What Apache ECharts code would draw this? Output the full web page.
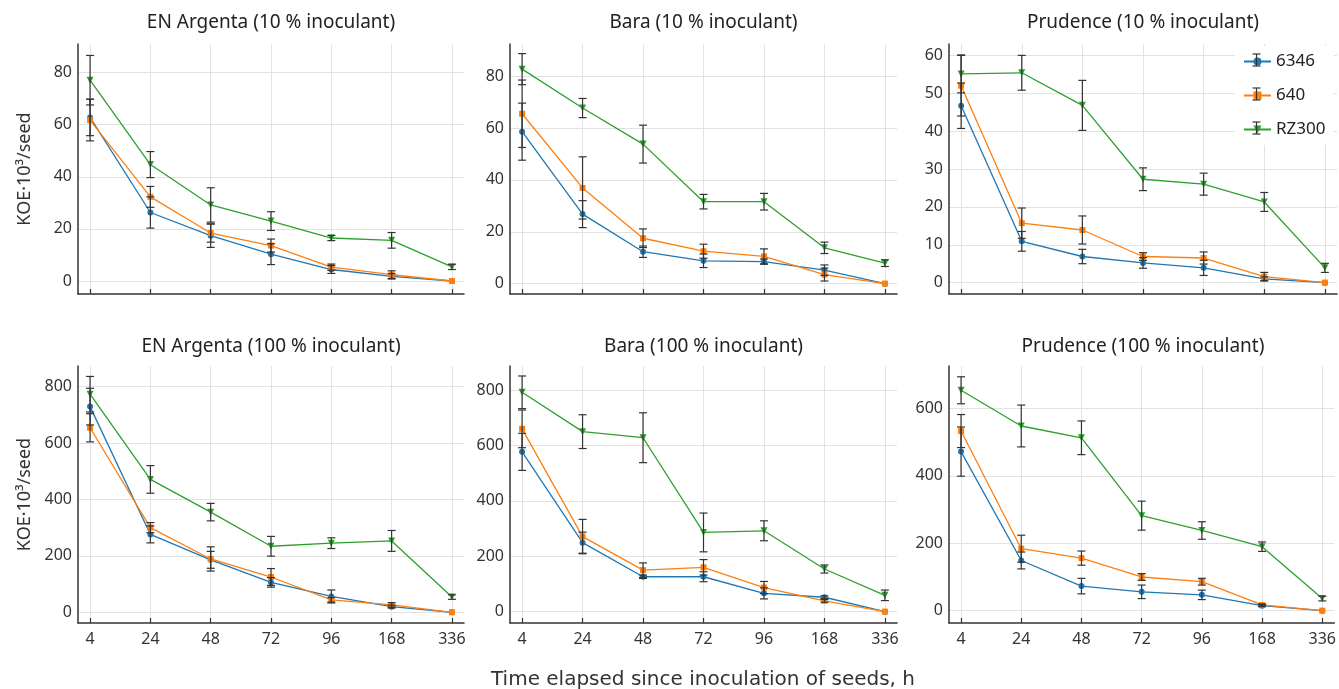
<!DOCTYPE html>
<html>
<head>
<meta charset="utf-8">
<script src="https://cdn.jsdelivr.net/npm/echarts@6/dist/echarts.min.js"></script>
<style>
  html, body { margin: 0; padding: 0; background: #fff; }
  #chart { width: 1339px; height: 689px; }
</style>
</head>
<body>
<div id="chart"></div>
<script>
// time points (h) and strains
const hours = ['4', '24', '48', '72', '96', '168', '336']
const strains = ['6346', '640', 'RZ300']
const panelTitles = [
  'EN Argenta (10 % inoculant)', 'Bara (10 % inoculant)', 'Prudence (10 % inoculant)',
  'EN Argenta (100 % inoculant)', 'Bara (100 % inoculant)', 'Prudence (100 % inoculant)'
]

// means, rows = 6346, 640, RZ300
const argenta10 = [
  [62.8, 26.3, 17.4, 10.3, 4.4, 1.8, 0],
  [61.8, 32.3, 18.4, 13.6, 5.3, 2.4, 0],
  [77.1, 44.7, 29.2, 23.0, 16.5, 15.6, 5.4]
]
const argenta10Err = [
  [7, 6, 4.5, 4, 1.5, 1, 0],
  [8, 4, 3.5, 2.5, 1.2, 1.5, 0],
  [9.5, 5, 6.6, 3.6, 1, 3, 1]
]
const bara10 = [
  [58.6, 26.8, 12.3, 8.8, 8.5, 5.2, 0],
  [65.5, 36.9, 17.5, 12.5, 10.5, 3.5, 0],
  [82.7, 67.7, 53.8, 31.6, 31.6, 13.8, 7.9]
]
const bara10Err = [
  [11, 5.2, 2.2, 2.6, 1, 2, 0],
  [13, 12, 3.6, 2.7, 2.9, 2.5, 0],
  [6, 3.7, 7.3, 2.8, 3.2, 2.2, 1.3]
]
const prudence10 = [
  [46.7, 10.9, 6.9, 5.2, 3.9, 1.0, 0],
  [52.0, 15.7, 13.9, 6.9, 6.5, 1.6, 0],
  [55.1, 55.4, 46.8, 27.3, 26.0, 21.3, 3.9]
]
const prudence10Err = [
  [6, 2.6, 1.9, 1.4, 2, 0.5, 0],
  [8, 4, 3.7, 1, 1.6, 1.1, 0],
  [5, 4.6, 6.6, 3, 2.9, 2.5, 1.2]
]
const argenta100 = [
  [729, 276, 186, 106, 56, 20, 0],
  [654, 300, 189, 125, 44, 26, 0],
  [773, 471, 355, 234, 245, 253, 54]
]
const argenta100Err = [
  [65, 30, 30, 17, 23, 5, 0],
  [50, 18, 43, 30, 8, 8, 0],
  [63, 49, 31, 35, 19, 37, 8]
]
const bara100 = [
  [577, 249, 126, 126, 66, 52, 0],
  [660, 271, 150, 160, 87, 39, 0],
  [792, 650, 628, 286, 292, 154, 59]
]
const bara100Err = [
  [67, 38, 6, 18, 20, 5, 0],
  [68, 62, 26, 28, 22, 5, 0],
  [59, 61, 90, 70, 36, 14.5, 19]
]
const prudence100 = [
  [472, 149, 73, 56, 47, 15, 0],
  [533, 184, 156, 100, 86, 17, 0],
  [654, 548, 513, 282, 238, 190, 36]
]
const prudence100Err = [
  [73, 25, 23, 20, 14, 3, 0],
  [49, 40, 21, 10, 10, 3, 0],
  [40, 62, 50, 43, 26, 14, 7]
]

const yTicks10 = [0, 20, 40, 60, 80]
const yTicksPrud10 = [0, 10, 20, 30, 40, 50, 60]
const yTicks100Big = [0, 200, 400, 600, 800]
const yTicksPrud100 = [0, 200, 400, 600]

const means = [argenta10, bara10, prudence10, argenta100, bara100, prudence100]
const errs = [argenta10Err, bara10Err, prudence10Err, argenta100Err, bara100Err, prudence100Err]
const yTicks = [yTicks10, yTicks10, yTicksPrud10, yTicks100Big, yTicks100Big, yTicksPrud100]

// layout
const yRange = [[-5, 91], [-4, 92.4], [-3, 63], [-38, 873], [-41, 887], [-36.5, 726]]
const lefts = [78, 510, 949]
const widths = [386, 387, 388]
const tops = [44, 366]
const heights = [250, 257]

const colors = ['#1f77b4', '#ff7f0e', '#2ca02c']
const symbols = ['circle', 'rect', 'triangle']
const symbolSizes = [6, 6, 7]
const font = 'Noto Sans'
const ink = '#333'

const chart = echarts.init(document.getElementById('chart'))

const grids = [], xAxes = [], yAxes = [], series = [], graphics = []

const errStyle = { stroke: ink, lineWidth: 1.2 }
function errBar(cx, y1, y2, w, z) {
	return [
		{ type: 'line', z: z, shape: { x1: cx, y1: y1, x2: cx, y2: y2 }, style: errStyle },
		{ type: 'line', z: z, shape: { x1: cx - w, y1: y1, x2: cx + w, y2: y1 }, style: errStyle },
		{ type: 'line', z: z, shape: { x1: cx - w, y1: y2, x2: cx + w, y2: y2 }, style: errStyle }
	]
}

for (let p = 0; p < 6; p++) {
	const row = Math.floor(p / 3), col = p % 3
	grids.push({ left: lefts[col], top: tops[row], width: widths[col], height: heights[row] })

	xAxes.push({
		type: 'value', gridIndex: p, min: -0.2, max: 6.2,
		axisLine: { show: true, onZero: false, lineStyle: { color: ink, width: 1.5 } },
		axisTick: { show: true, inside: true, length: 5, customValues: [0, 1, 2, 3, 4, 5, 6], lineStyle: { color: ink, width: 1.2 } },
		axisLabel: {
			show: row === 1, customValues: [0, 1, 2, 3, 4, 5, 6],
			formatter: v => hours[v], fontFamily: font, fontSize: 16, color: ink, margin: 8
		},
		splitLine: { show: true, lineStyle: { color: '#e2e2e2', width: 1 } }
	})

	yAxes.push({
		type: 'value', gridIndex: p, min: yRange[p][0], max: yRange[p][1],
		name: col === 0 ? 'KOE·10³/seed' : '',
		nameLocation: 'middle', nameGap: 44, nameRotate: 90,
		nameTextStyle: { fontFamily: font, fontSize: 18, color: ink },
		axisLine: { show: true, onZero: false, lineStyle: { color: ink, width: 1.5 } },
		axisTick: { show: false, customValues: yTicks[p] },
		axisLabel: { customValues: yTicks[p], fontFamily: font, fontSize: 16, color: ink, margin: 6 },
		splitLine: { show: true, lineStyle: { color: '#e2e2e2', width: 1 } }
	})

	for (let s = 0; s < 3; s++) {
		const m = means[p][s], e = errs[p][s]
		series.push({
			name: strains[s], type: 'line', xAxisIndex: p, yAxisIndex: p,
			data: m.map((v, i) => [i, v]),
			symbol: symbols[s], symbolSize: symbolSizes[s], symbolRotate: s === 2 ? 180 : 0,
			showSymbol: true, color: colors[s],
			lineStyle: { width: 1.3 }, z: 2, animation: false
		})
		series.push({
			name: strains[s] + ' err', type: 'custom', xAxisIndex: p, yAxisIndex: p,
			data: m.map((v, i) => [i, v - e[i], v + e[i]]),
			z: 3, animation: false, silent: true,
			renderItem: (params, api) => {
				const lo = api.value(1), hi = api.value(2)
				if (hi - lo <= 0) return null
				const a = api.coord([api.value(0), hi])
				const b = api.coord([api.value(0), lo])
				return { type: 'group', children: errBar(a[0], a[1], b[1], 4) }
			}
		})
	}

	graphics.push({
		type: 'text', x: lefts[col] + widths[col] / 2, y: row === 0 ? 23 : 347,
		style: { text: panelTitles[p], fontFamily: font, fontSize: 19, fill: '#222', align: 'center', verticalAlign: 'middle' }
	})
}

graphics.push({
	type: 'text', x: 703, y: 680,
	style: { text: 'Time elapsed since inoculation of seeds, h', fontFamily: 'DejaVu Sans', fontSize: 20, fill: '#333', align: 'center', verticalAlign: 'middle' }
})

// error-bar glyphs of the legend entries
const legendRows = [60, 94, 128]
legendRows.forEach(y => {
	graphics.push({ type: 'group', children: errBar(1256.5, y - 6, y + 6, 4, 100) })
})

chart.setOption({
	animation: false,
	grid: grids,
	xAxis: xAxes,
	yAxis: yAxes,
	series: series,
	graphic: { elements: graphics, z: 100 },
	legend: {
		data: strains, orient: 'vertical', left: 1235, top: 46,
		padding: [7, 8, 7, 8], itemGap: 17, itemWidth: 27, itemHeight: 10,
		backgroundColor: '#fff',
		textStyle: { fontFamily: font, fontSize: 17, color: '#222' },
		z: 10
	}
})
</script>
</body>
</html>
